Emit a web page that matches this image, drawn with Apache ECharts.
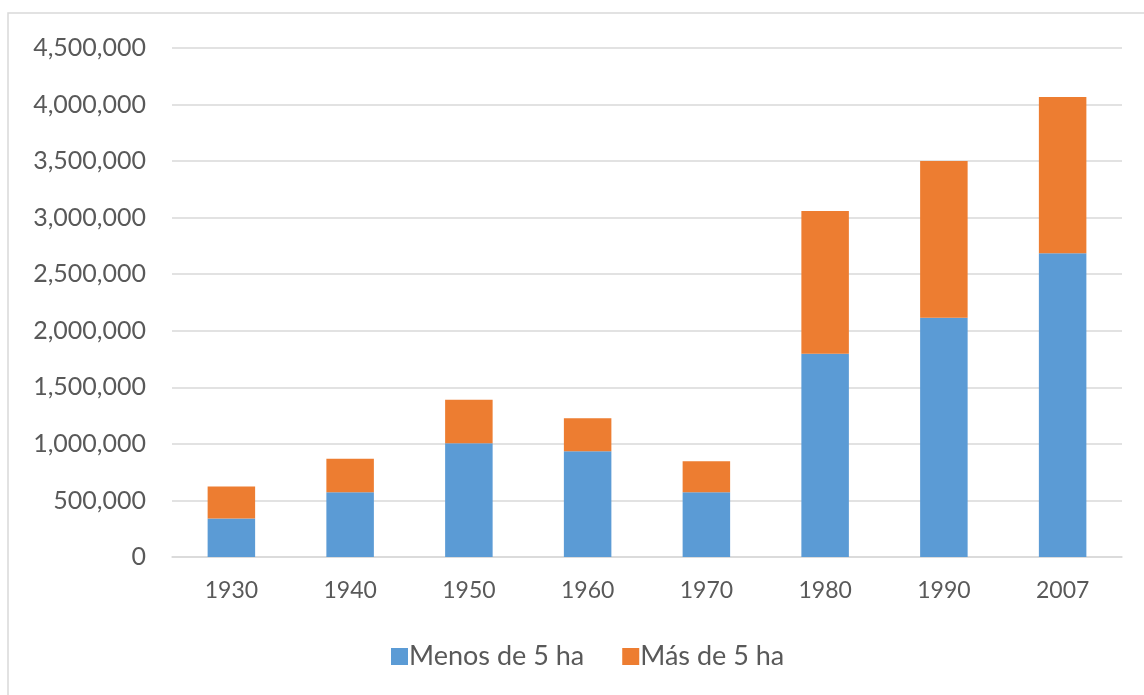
<!DOCTYPE html>
<html>
<head>
<meta charset="utf-8">
<script src="https://cdn.jsdelivr.net/npm/echarts@6/dist/echarts.min.js"></script>
<style>
  html, body { margin: 0; padding: 0; background: #ffffff; }
  #chart { width: 1144px; height: 695px; }
</style>
</head>
<body>
<div id="chart"></div>
<script>
// Census years and farm counts by size class
const years = ['1930', '1940', '1950', '1960', '1970', '1980', '1990', '2007'];
const menosDe5ha = [340000, 573000, 1006000, 935000, 573000, 1797000, 2115000, 2686000];
const masDe5ha = [284000, 295000, 384000, 292000, 274000, 1261000, 1385000, 1380000];
const yTicks = { min: 0, max: 4500000, interval: 500000 };

const textColor = '#595959';
const fontFamily = 'Lato, "Open Sans", sans-serif';

const chart = echarts.init(document.getElementById('chart'));
chart.setOption({
  animation: false,
  backgroundColor: '#ffffff',
  textStyle: { fontFamily: fontFamily, color: textColor },
  graphic: [{
    type: 'rect',
    shape: { x: 8, y: 13, width: 1300, height: 900 },
    style: { fill: 'none', stroke: '#d9d9d9', lineWidth: 1.5 },
    silent: true
  }],
  grid: { left: 172, right: 22, top: 48, bottom: 138, containLabel: false },
  legend: {
    bottom: 20,
    left: 386,
    itemWidth: 17,
    itemHeight: 17,
    itemGap: 38,
    icon: 'rect',
    textStyle: { fontSize: 27, color: textColor, fontFamily: fontFamily, padding: [0, 0, 0, -4] },
    data: ['Menos de 5 ha', 'Más de 5 ha']
  },
  xAxis: {
    type: 'category',
    data: years,
    axisLine: { show: true, lineStyle: { color: '#d9d9d9', width: 1.5 } },
    axisTick: { show: false },
    axisLabel: { fontSize: 23, color: textColor, margin: 22, fontFamily: fontFamily }
  },
  yAxis: {
    type: 'value',
    min: yTicks.min,
    max: yTicks.max,
    interval: yTicks.interval,
    axisLine: { show: false },
    axisTick: { show: false },
    splitLine: { lineStyle: { color: '#d9d9d9', width: 1.5 } },
    axisLabel: {
      fontSize: 25,
      color: textColor,
      margin: 26,
      fontFamily: fontFamily,
      formatter: v => v.toLocaleString('en-US')
    }
  },
  series: [
    {
      name: 'Menos de 5 ha',
      type: 'bar',
      stack: 'total',
      data: menosDe5ha,
      barCategoryGap: '60%',
      itemStyle: { color: '#5b9bd5' }
    },
    {
      name: 'Más de 5 ha',
      type: 'bar',
      stack: 'total',
      data: masDe5ha,
      barCategoryGap: '60%',
      itemStyle: { color: '#ed7d31' }
    }
  ]
});
</script>
</body>
</html>
